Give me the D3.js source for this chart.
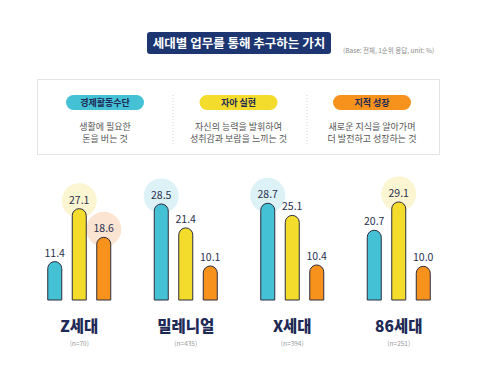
<!DOCTYPE html>
<html>
<head>
<meta charset="utf-8">
<script src="https://cdn.jsdelivr.net/npm/d3@7"></script>
<style>
  body { margin: 0; background: #fff; }
  text { font-family: "Noto Sans CJK KR", "Noto Sans", sans-serif; }
</style>
</head>
<body>
<script>
// data
const groups = ["Z세대", "밀레니얼", "X세대", "86세대"];
const groupN = ["(n=70)", "(n=435)", "(n=394)", "(n=251)"];
const series = ["경제활동수단", "자아 실현", "지적 성장"];
const seriesDesc = [
  ["생활에 필요한", "돈을 버는 것"],
  ["자신의 능력을 발휘하여", "성취감과 보람을 느끼는 것"],
  ["새로운 지식을 알아가며", "더 발전하고 성장하는 것"]
];
const values = [
  [11.4, 27.1, 18.6],
  [28.5, 21.4, 10.1],
  [28.7, 25.1, 10.4],
  [20.7, 29.1, 10.0]
];
// which bars get a halo behind their label
const halos = [[0, 1], [0, 2], [1, 0], [2, 0], [3, 1]];

const colors = ["#45c1d6", "#f4dc2c", "#f7921c"];
const haloColors = ["#dcf2f6", "#fbf5d2", "#fbe4d1"];
const navy = "#1d3571";

const width = 478, height = 367;
const svg = d3.select("body").append("svg").attr("width", width).attr("height", height);

// title
svg.append("rect").attr("x", 147).attr("y", 32).attr("width", 184).attr("height", 22)
  .attr("rx", 3).attr("fill", navy);
svg.append("text").attr("x", 239).attr("y", 47.5).attr("text-anchor", "middle")
  .attr("fill", "#fff").attr("font-size", 12.5).attr("font-weight", 700)
  .text("세대별 업무를 통해 추구하는 가치");
svg.append("text").attr("x", 343).attr("y", 52.5).attr("fill", "#8a8a8a")
  .attr("font-size", 6.5).text("(Base: 전체, 1순위 응답, unit: %)");

// legend panel
svg.append("rect").attr("x", 37.5).attr("y", 79.5).attr("width", 402).attr("height", 75)
  .attr("fill", "#fff").attr("stroke", "#e4e4e4");

const legX = d3.scalePoint().domain(series).range([105, 372]);
[173, 307].forEach(x => {
  svg.append("line").attr("x1", x).attr("x2", x).attr("y1", 95).attr("y2", 144)
    .attr("stroke", "#d8d8d8").attr("stroke-dasharray", "1,2");
});
const leg = svg.selectAll(".leg").data(series).enter().append("g")
  .attr("transform", d => `translate(${legX(d)},0)`);
leg.append("rect").attr("x", -39).attr("y", 95).attr("width", 78).attr("height", 15)
  .attr("rx", 7.5).attr("fill", (d, i) => colors[i]);
leg.append("text").attr("y", 106).attr("text-anchor", "middle").attr("font-size", 9)
  .attr("font-weight", 700).attr("fill", "#1e2a55").text(d => d);
leg.each(function(d, i) {
  seriesDesc[i].forEach((line, j) => {
    d3.select(this).append("text").attr("y", 130 + j * 12).attr("text-anchor", "middle")
      .attr("font-size", 9).attr("fill", "#555").text(line);
  });
});

// scales
const x0 = d3.scaleBand().domain(groups).range([26, 452]);
const x1 = d3.scalePoint().domain(series).range([-24.5, 24.5]);
const y = d3.scaleLinear().domain([0, 30]).range([300, 198.9]);
const bw = 14, r = bw / 2;

const g = svg.selectAll(".grp").data(groups).enter().append("g")
  .attr("transform", d => `translate(${x0(d) + x0.bandwidth() / 2},0)`);

// halos
halos.forEach(([gi, si]) => {
  const cx = x0(groups[gi]) + x0.bandwidth() / 2 + x1(series[si]);
  svg.insert("circle", "g").attr("cx", cx).attr("cy", y(values[gi][si]) - 8)
    .attr("r", 17.5).attr("fill", haloColors[si]);
});

g.each(function(grp, gi) {
  const sel = d3.select(this);
  series.forEach((s, si) => {
    const v = values[gi][si];
    const x = x1(s) - r, yt = y(v), yb = y(0);
    sel.append("path")
      .attr("d", `M${x},${yb}L${x},${yt + r}A${r},${r} 0 0 1 ${x + bw},${yt + r}L${x + bw},${yb}Z`)
      .attr("fill", colors[si]).attr("stroke", "#2c2c3c").attr("stroke-width", 1);
    sel.append("text").attr("x", x1(s)).attr("y", yt - 5).attr("text-anchor", "middle")
      .attr("font-size", 10.5).attr("fill", "#2a3050").text(v.toFixed(1));
  });
  sel.append("text").attr("y", 332).attr("text-anchor", "middle").attr("font-size", 15.5)
    .attr("font-weight", 900).attr("fill", "#1e2a55").text(grp);
  sel.append("text").attr("y", 345.5).attr("text-anchor", "middle").attr("font-size", 6.5)
    .attr("fill", "#999").text(groupN[gi]);
});
</script>
</body>
</html>
